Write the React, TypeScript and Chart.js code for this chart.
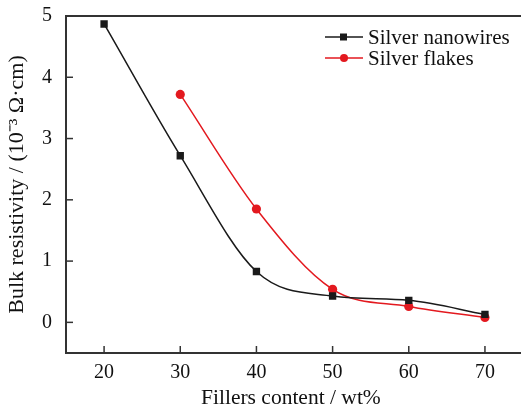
import React, { useEffect, useRef } from "react";
import { Chart, registerables } from "chart.js";

Chart.register(...registerables);

const fillers = [20, 30, 40, 50, 60, 70];
const nanowires = [4.87, 2.72, 0.83, 0.43, 0.36, 0.13];
const flakesX = [30, 40, 50, 60, 70];
const flakes = [3.72, 1.85, 0.54, 0.26, 0.08];
const xTicks = [20, 30, 40, 50, 60, 70];
const yTicks = [0, 1, 2, 3, 4, 5];
const seriesNames = ["Silver nanowires", "Silver flakes"];
const xTitle = "Fillers content / wt%";
const yTitle = "Bulk resistivity / (10\u207B\u00B3 \u03A9\u00B7cm)";

const BLACK = "#1a1a1a";
const RED = "#e3191f";
const FRAME = "#333333";
const FONT = "'Liberation Serif', 'Times New Roman', serif";

export default function App() {
  const ref = useRef<HTMLCanvasElement | null>(null);

  useEffect(() => {
    document.body.style.margin = "0";
    const canvas = ref.current!;
    const framePlugin = {
      id: "frame",
      afterDraw(chart: any) {
        const ctx = chart.ctx;
        const { left, top, bottom } = chart.chartArea;
        const xs = chart.scales.x;
        const ys = chart.scales.y;
        ctx.save();
        ctx.strokeStyle = FRAME;
        ctx.lineWidth = 2;
        ctx.beginPath();
        ctx.moveTo(left, top);
        ctx.lineTo(chart.width, top);
        ctx.stroke();
        ctx.beginPath();
        ctx.moveTo(left, bottom);
        ctx.lineTo(chart.width, bottom);
        ctx.stroke();
        ctx.lineWidth = 1.5;
        xTicks.forEach((v) => {
          const px = xs.getPixelForValue(v);
          ctx.beginPath();
          ctx.moveTo(px, bottom);
          ctx.lineTo(px, bottom - 7);
          ctx.stroke();
        });
        yTicks.forEach((v) => {
          const py = ys.getPixelForValue(v);
          ctx.beginPath();
          ctx.moveTo(left, py);
          ctx.lineTo(left + 7, py);
          ctx.stroke();
        });
        const items = [
          { name: seriesNames[0], color: BLACK, shape: "rect" },
          { name: seriesNames[1], color: RED, shape: "circle" },
        ];
        ctx.font = `21px ${FONT}`;
        ctx.textBaseline = "middle";
        ctx.textAlign = "left";
        items.forEach((it, i) => {
          const y = top + 21 + i * 21;
          const x0 = left + 259;
          ctx.strokeStyle = it.color;
          ctx.lineWidth = 1.5;
          ctx.beginPath();
          ctx.moveTo(x0, y);
          ctx.lineTo(x0 + 38, y);
          ctx.stroke();
          ctx.fillStyle = it.color;
          if (it.shape === "rect") {
            ctx.fillRect(x0 + 15, y - 3.5, 7, 7);
          } else {
            ctx.beginPath();
            ctx.arc(x0 + 19, y, 4, 0, Math.PI * 2);
            ctx.fill();
          }
          ctx.fillStyle = "#111";
          ctx.fillText(it.name, x0 + 43, y + 1);
        });
        ctx.restore();
      },
    };

    const chart = new Chart(canvas, {
      type: "line",
      data: {
        datasets: [
          {
            label: seriesNames[0],
            data: fillers.map((x, i) => ({ x, y: nanowires[i] })),
            borderColor: BLACK,
            backgroundColor: BLACK,
            borderWidth: 1.5,
            pointStyle: "rect",
            pointRadius: 5.2,
            pointBorderWidth: 0,
            cubicInterpolationMode: "monotone",
          },
          {
            label: seriesNames[1],
            data: flakesX.map((x, i) => ({ x, y: flakes[i] })),
            borderColor: RED,
            backgroundColor: RED,
            borderWidth: 1.5,
            pointStyle: "circle",
            pointRadius: 4.6,
            pointBorderWidth: 0,
            cubicInterpolationMode: "monotone",
          },
        ],
      },
      options: {
        animation: false,
        responsive: false,
        events: [],
        layout: { padding: { top: 16, right: 0, left: 0, bottom: 0 } },
        plugins: { legend: { display: false }, tooltip: { enabled: false } },
        scales: {
          x: {
            type: "linear",
            min: 15,
            max: 74.05,
            afterFit: (s: any) => {
              s.height = 54;
              s.paddingLeft = 0;
              s.paddingRight = 0;
            },
            afterBuildTicks: (s: any) => {
              s.ticks = xTicks.map((v) => ({ value: v }));
            },
            grid: { display: false, drawTicks: false },
            border: { display: true, color: FRAME, width: 2 },
            ticks: {
              padding: 8,
              color: "#111",
              font: { family: FONT, size: 20 },
            },
            title: {
              display: true,
              text: xTitle,
              color: "#111",
              font: { family: FONT, size: 21.5 },
              padding: { top: 0, bottom: -4 },
            },
          },
          y: {
            type: "linear",
            min: -0.5,
            max: 5,
            afterFit: (s: any) => {
              s.width = 66;
              s.paddingTop = 0;
              s.paddingBottom = 0;
            },
            afterBuildTicks: (s: any) => {
              s.ticks = yTicks.map((v) => ({ value: v }));
            },
            grid: { display: false, drawTicks: false },
            border: { display: true, color: FRAME, width: 2 },
            ticks: {
              padding: 14,
              color: "#111",
              font: { family: FONT, size: 20 },
            },
            title: {
              display: true,
              text: yTitle,
              color: "#111",
              font: { family: FONT, size: 22 },
              padding: { top: 4, bottom: 0 },
            },
          },
        },
      },
      plugins: [framePlugin],
    } as any);
    return () => chart.destroy();
  }, []);

  return <canvas ref={ref} width={521} height={407} style={{ display: "block" }} />;
}
